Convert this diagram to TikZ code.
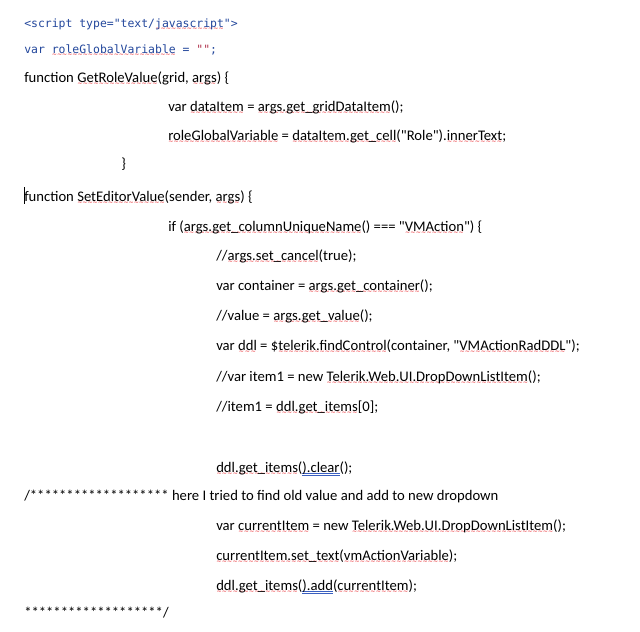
\documentclass[tikz,border=0pt]{standalone}
\usepackage{fontspec}
\setmainfont{Carlito}[Ligatures=TeXOff]
\newfontfamily\htmlfont{DejaVu Sans Mono}[Scale=0.78, Ligatures=TeXOff]
\newfontfamily\wavefont{DejaVu Sans}
\definecolor{scriptblue}{HTML}{23479C}
\definecolor{stringred}{HTML}{B0304A}
\definecolor{squigred}{HTML}{E8161C}
\definecolor{gramblue}{HTML}{3A5FC0}
\newcommand\sq[1]{\leavevmode\setbox0=\hbox{#1}\rlap{\raisebox{-2.6pt}[0pt][0pt]{\color{squigred}\hbox to \wd0{\xleaders\hbox{\fontsize{4.6}{5}\wavefont\char"223C}\hfil}}}\box0\relax}
\newcommand\gb[1]{\leavevmode\setbox0=\hbox{#1}\rlap{\color{gramblue}\rule[-2.7pt]{\wd0}{0.4pt}}\rlap{\color{gramblue}\rule[-1.5pt]{\wd0}{0.4pt}}\box0\relax}
\tikzset{
  codeline/.style={anchor=base west, inner sep=0pt, font=\fontsize{11}{13}\selectfont},
  htmlline/.style={codeline, font=\fontsize{11}{13}\htmlfont, text=scriptblue}
}

\begin{document}
\begin{tikzpicture}[x=0.75pt, y=-0.75pt]
			%%%%% START %%%%%
			\useasboundingbox[fill=white] (0, 0) rectangle (640, 632);

			\node[htmlline] (script) at (24, 27) {<script type="text/\sq{javascript}">};
			\node[htmlline] (globalvar) at (24, 53) {var \sq{roleGlobalVariable} = \textcolor{stringred}{""};};

			\node[codeline] (getrole) at (24, 82) {function \sq{GetRoleValue}(grid, \sq{args}) \{};
			\node[codeline] (dataitem) at (168, 111) {var \sq{dataItem} = \sq{args.get\_gridDataItem}();};
			\node[codeline] (rolevar) at (168, 140) {\sq{roleGlobalVariable} = \sq{dataItem.get\_cell}("Role").\sq{innerText};};
			\node[codeline] (closerole) at (121, 168) {\}};

			\draw[line width=0.6pt] (24.5, 187) -- (24.5, 204);
			\node[codeline] (seteditor) at (24, 201) {function \sq{SetEditorValue}(sender, \sq{args}) \{};
			\node[codeline] (ifcolumn) at (168, 231) {if (\sq{args.get\_columnUniqueName}() === "\sq{VMAction}") \{};
			\node[codeline] (cancel) at (216, 260) {//\sq{args.set\_cancel}(true);};
			\node[codeline] (container) at (216, 290) {var container = \sq{args.get\_container}();};
			\node[codeline] (value) at (216, 320) {//value = \sq{args.get\_value}();};
			\node[codeline] (ddl) at (216, 350) {var \sq{ddl} = \$\sq{telerik.findControl}(container, "\sq{VMActionRadDDL}");};
			\node[codeline] (itemone) at (216, 381) {//var item1 = new \sq{Telerik.Web.UI.DropDownListItem}();};
			\node[codeline] (itemzero) at (216, 411) {//item1 = \sq{ddl.get\_items}[0];};

			\node[codeline] (clear) at (216, 472) {\sq{ddl.get\_items}(\gb{).clear}();};
			\node[codeline] (opencomment) at (24, 500) {/******************* here I tried to find old value and add to new dropdown};
			\node[codeline] (current) at (216, 530) {var \sq{currentItem} = new \sq{Telerik.Web.UI.DropDownListItem}();};
			\node[codeline] (settext) at (216, 560) {\sq{currentItem.set\_text}(\sq{vmActionVariable});};
			\node[codeline] (additem) at (216, 590) {\sq{ddl.get\_items}(\gb{).add}(\sq{currentItem});};
			\node[codeline] (closecomment) at (24, 617) {*******************/};
			%%%%% END %%%%%
		\end{tikzpicture}
\end{document}
